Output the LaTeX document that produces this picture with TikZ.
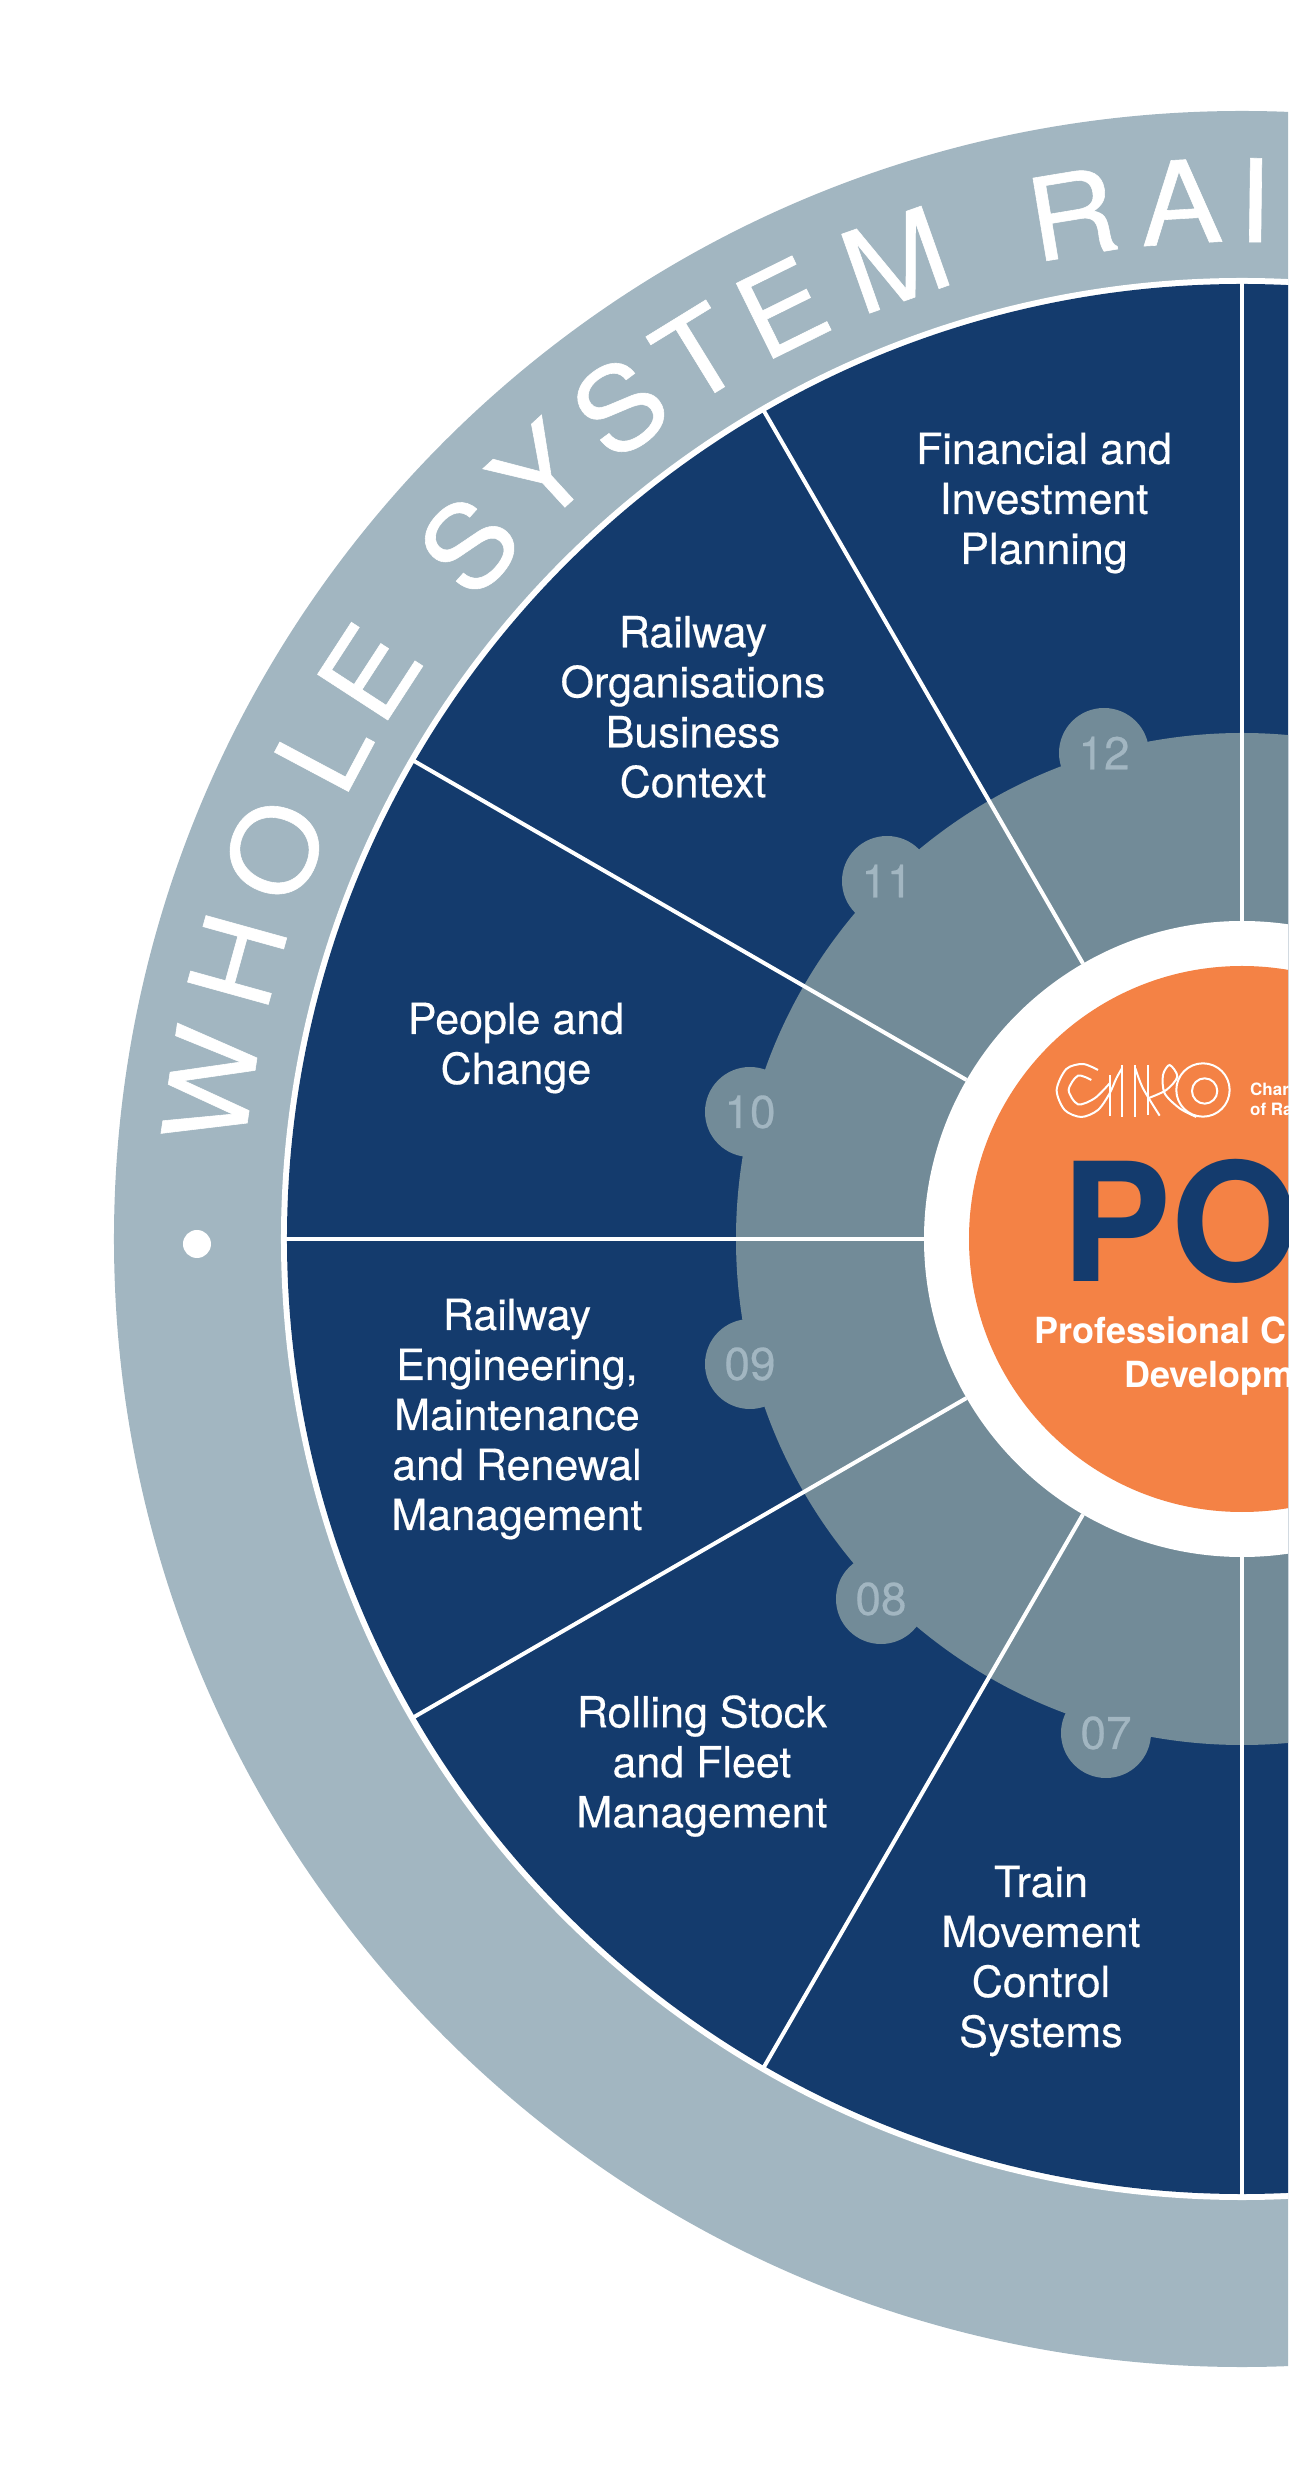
\documentclass[tikz,border=0pt]{standalone}
\usepackage{fontspec}
\setmainfont{TeX Gyre Heros}
\newfontfamily\ringfont[FakeStretch=1.07,FakeBold=0.5]{TeX Gyre Heros}
\newfontfamily\segfont[FakeBold=0.35]{TeX Gyre Heros}
\usetikzlibrary{positioning}
\definecolor{ringgrey}{HTML}{A2B6C1}
\definecolor{wheelnavy}{HTML}{143B6D}
\definecolor{hubgrey}{HTML}{728B98}
\definecolor{huborange}{HTML}{F48245}
\tikzset{
  ringletter/.style={white, anchor=base, inner sep=0pt, font=\ringfont\fontsize{115}{115}\selectfont},
  segment/.style={white, align=center, inner sep=0pt, font=\segfont\fontsize{43}{50}\selectfont},
  bubble/.style={circle, fill=hubgrey, text=ringgrey, minimum size=90pt, inner sep=0pt, font=\segfont\fontsize{46}{46}\selectfont},
  spoke/.style={white, line width=4pt},
  logoline/.style={white, line width=2pt}
}
\begin{document}
\begin{tikzpicture}[x=1pt,y=1pt]
  \path[use as bounding box, clip] (-1242,-1241) rectangle (46,1239);
  \fill[ringgrey] (0,0) circle (1128);
  \fill[white] (0,0) circle (961);
  \fill[wheelnavy] (0,0) circle (955);
  \fill[hubgrey] (0,0) circle (506);
  \node[ringletter, rotate=81.5] (w1) at (171.5:1001) {W};
  \node[ringletter, rotate=74.5] (w2) at (164.5:1001) {H};
  \node[ringletter, rotate=68.1] (w3) at (158.1:1001) {O};
  \node[ringletter, rotate=62] (w4) at (152:999) {L};
  \node[ringletter, rotate=57] (w5) at (147:999) {E};
  \node[ringletter, rotate=48.1] (s1) at (138.1:997) {S};
  \node[ringletter, rotate=42.5] (s2) at (132.5:997) {Y};
  \node[ringletter, rotate=36.8] (s3) at (126.8:997) {S};
  \node[ringletter, rotate=31.6] (s4) at (121.6:997) {T};
  \node[ringletter, rotate=26.3] (s5) at (116.3:997) {E};
  \node[ringletter, rotate=19.5] (s6) at (109.5:997) {M};
  \node[ringletter, rotate=9.4] (r1) at (99.4:997) {R};
  \node[ringletter, rotate=3.4] (r2) at (93.4:997) {A};
  \node[ringletter, rotate=-0.7] (r3) at (89.3:997) {I};
  \node[circle, fill=white, minimum size=28pt, inner sep=0pt] (ringdot) at (-1045,-5) {};
  \node[bubble] (b12) at (-138,486) {12};
  \node[bubble] (b11) at (-355,358) {11};
  \node[bubble] (b10) at (-492,127) {10};
  \node[bubble] (b09) at (-492,-125) {09};
  \node[bubble] (b08) at (-361,-360) {08};
  \node[bubble] (b07) at (-136,-494) {07};
  \foreach \a in {90,120,150,180,210,240,270}
    \draw[spoke] (\a:318) -- (\a:957);
  \fill[white] (0,0) circle (318);
  \fill[huborange] (0,0) circle (273);
  \node[segment] (s12) at (-198,736) {Financial and\\Investment\\Planning};
  \node[segment] (s11) at (-549,532) {Railway\\Organisations\\Business\\Context};
  \node[segment] (s10) at (-726,191) {People and\\Change};
  \node[segment] (s09) at (-725,-180) {Railway\\Engineering,\\Maintenance\\and Renewal\\Management};
  \node[segment] (s08) at (-540,-527) {Rolling Stock\\and Fleet\\Management};
  \node[segment] (s07) at (-201,-722) {Train\\Movement\\Control\\Systems};
  \node[anchor=base west, inner sep=0pt, text=wheelnavy, font=\bfseries\fontsize{165}{165}\selectfont] (po) at (-181,-43) {PO};
  \node[anchor=base west, inner sep=0pt, white, font=\bfseries\fontsize{36}{36}\selectfont] (pro) at (-208,-105) {Professional C};
  \node[anchor=base west, inner sep=0pt, white, font=\bfseries\fontsize{36}{36}\selectfont] (dev) at (-118,-149) {Developm};
  \node[anchor=base west, inner sep=0pt, white, font=\bfseries\fontsize{17}{17}\selectfont] (cha) at (8,143) {Char};
  \node[anchor=base west, inner sep=0pt, white, font=\bfseries\fontsize{17}{17}\selectfont] (ofr) at (8,123) {of Ra};
  \begin{scope}[shift={(-194,184)},x=0.3333pt,y=-0.3333pt]
    \draw[logoline] plot[smooth] coordinates {(150,45) (105,27) (55,42) (26,105) (50,165) (100,186) (150,165) (185,115) (205,70) (222,40)};
    \draw[logoline] plot[smooth] coordinates {(130,75) (90,62) (62,105) (90,148) (140,130) (185,85)};
    \draw[logoline] (185,60) -- (185,182);
    \draw[logoline] (222,30) -- (222,185);
    \draw[logoline] (262,30) -- (262,185);
    \draw[logoline] (300,30) -- (300,180);
    \draw[logoline] plot[smooth] coordinates {(262,40) (285,100) (335,182)};
    \draw[logoline] plot[smooth] coordinates {(300,130) (355,105) (388,65) (365,30) (345,60) (350,115) (395,160) (445,186)};
    \draw[logoline] (465,105) ++(80,0) arc[start angle=0, end angle=360, radius=80];
    \draw[logoline] (470,108) circle (38);
  \end{scope}
\end{tikzpicture}
\end{document}
